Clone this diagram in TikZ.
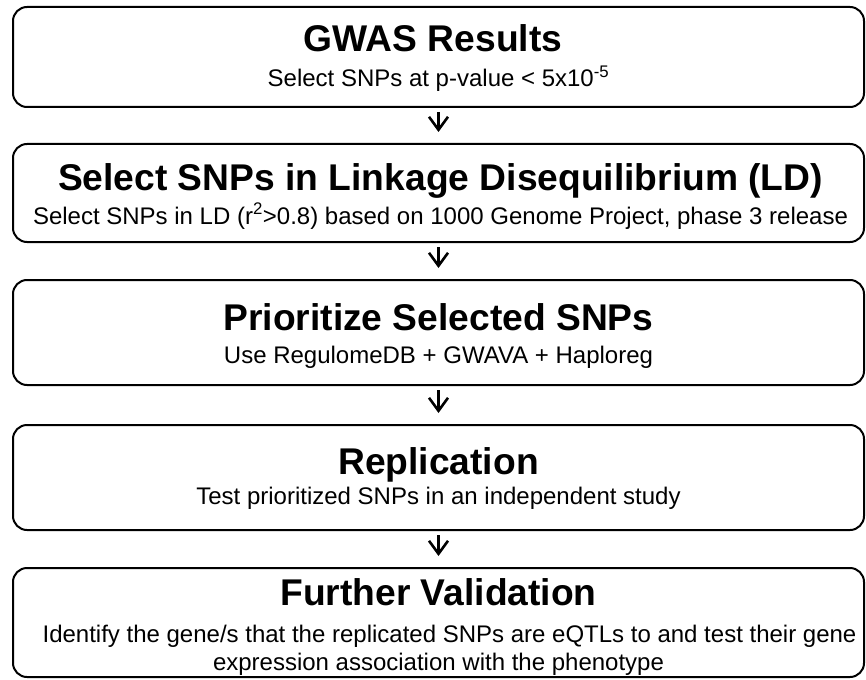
\documentclass[tikz,border=0pt]{standalone}
\usepackage{fontspec}
\setmainfont{Liberation Sans}
\usetikzlibrary{arrows.meta}
\begin{document}
\begin{tikzpicture}[x=1pt,y=-1pt,
  stepbox/.style={draw=black, line width=2pt, rounded corners=14pt, minimum width=851pt, inner sep=0pt, fill=white},
  ttl/.style={anchor=base, inner sep=0pt, font=\fontsize{37.2}{40}\selectfont\bfseries},
  sub/.style={anchor=base, inner sep=0pt, font=\fontsize{24}{28}\selectfont},
  arr/.style={line width=2.6pt, -{Straight Barb[length=13pt,width=19pt]}, shorten <=4pt, shorten >=11pt}]
\useasboundingbox[fill=white] (0,0) rectangle (866,679);
% boxes
\node[stepbox, minimum height=100pt] (b1) at (438.5,57) {};
\node[stepbox, minimum height=98pt]  (b2) at (438.5,193) {};
\node[stepbox, minimum height=105pt] (b3) at (438.5,332.5) {};
\node[stepbox, minimum height=105pt] (b4) at (438.5,477.5) {};
\node[stepbox, minimum height=109pt] (b5) at (438.5,622.5) {};
% texts
\node[ttl] (t1) at (433,52) {GWAS Results};
\node[sub] (s1) at (438.5,87) {Select SNPs at p-value < 5x10\textsuperscript{-5}};
\node[ttl] (t2) at (440.5,190) {Select SNPs in Linkage Disequilibrium (LD)};
\node[sub] (s2) at (440.5,224) {Select SNPs in LD (r\textsuperscript{2}>0.8) based on 1000 Genome Project, phase 3 release};
\node[ttl] (t3) at (438.5,330) {Prioritize Selected SNPs};
\node[sub] (s3) at (438.5,363) {Use RegulomeDB + GWAVA + Haploreg};
\node[ttl] (t4) at (438.5,474) {Replication};
\node[sub] (s4) at (438.5,504) {Test prioritized SNPs in an independent study};
\node[ttl] (t5) at (438.5,605) {Further Validation};
\node[sub] (s5a) at (449.5,642) {Identify the gene/s that the replicated SNPs are eQTLs to and test their gene};
\node[sub] (s5b) at (438.5,670) {expression association with the phenotype};
% arrows
\draw[arr] (b1.south) -- (b2.north);
\draw[arr] (b2.south) -- (b3.north);
\draw[arr] (b3.south) -- (b4.north);
\draw[arr] (b4.south) -- (b5.north);
\end{tikzpicture}
\end{document}
